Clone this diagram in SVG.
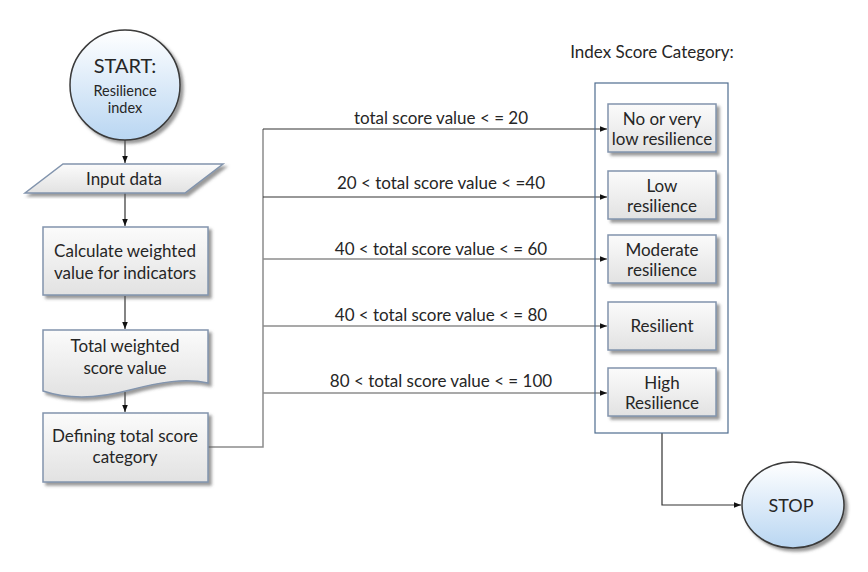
<svg xmlns="http://www.w3.org/2000/svg" width="868" height="572" viewBox="0 0 868 572">
<style>
text{font-family:Lato,"Liberation Sans",sans-serif;fill:#262626;text-anchor:middle}
.t{font-size:17px}
.lbl{font-size:17px}
.box{fill:url(#boxg);stroke:#8294ad;stroke-width:1.5;filter:url(#sh)}
.circ{fill:url(#circg);stroke:#3a3a3a;stroke-width:1.5;filter:url(#sh)}
.ln{fill:none;stroke:#333;stroke-width:1.2}
.lg{fill:none;stroke:#8c8c8c;stroke-width:1.5}
.cont{fill:none;stroke:#4f6d8f;stroke-width:1.2}
</style>
<defs>
<linearGradient id="boxg" x1="0" y1="0" x2="0" y2="1">
<stop offset="0" stop-color="#fbfbfb"/>
<stop offset="1" stop-color="#e2e2e2"/>
</linearGradient>
<linearGradient id="circg" x1="0" y1="0" x2="0" y2="1">
<stop offset="0" stop-color="#ffffff"/>
<stop offset="1" stop-color="#b9d6f2"/>
</linearGradient>
<filter id="sh" x="-20%" y="-20%" width="140%" height="140%">
<feDropShadow dx="3" dy="3" stdDeviation="1.5" flood-color="#555" flood-opacity="0.6"/>
</filter>
<marker id="ar" viewBox="0 0 10 10" refX="10" refY="5" markerWidth="7" markerHeight="7" orient="auto" markerUnits="userSpaceOnUse">
<path d="M0,1 L10,5 L0,9 Z" fill="#111"/>
</marker>
</defs>

<g id="connectors">
<line class="ln" x1="125" y1="140" x2="125" y2="163" marker-end="url(#ar)"/>
<line class="ln" x1="125" y1="193" x2="125" y2="226" marker-end="url(#ar)"/>
<line class="ln" x1="125" y1="296" x2="125" y2="329" marker-end="url(#ar)"/>
<line class="ln" x1="125" y1="392" x2="125" y2="412" marker-end="url(#ar)"/>
<polyline class="lg" points="208,447 263,447 263,129"/>
<line class="ln" x1="263" y1="129" x2="607" y2="129" marker-end="url(#ar)"/>
<line class="ln" x1="263" y1="197" x2="607" y2="197" marker-end="url(#ar)"/>
<line class="lg" x1="263" y1="259" x2="607" y2="259" marker-end="url(#ar)"/>
<line class="lg" x1="263" y1="326" x2="607" y2="326" marker-end="url(#ar)"/>
<line class="lg" x1="263" y1="393" x2="607" y2="393" marker-end="url(#ar)"/>
<polyline class="ln" points="662,433 662,505 741,505" marker-end="url(#ar)"/>
<text class="lbl" x="441" y="124">total score value &lt; = 20</text>
<text class="lbl" x="441" y="189">20 &lt; total score value &lt; =40</text>
<text class="lbl" x="441" y="255">40 &lt; total score value &lt; = 60</text>
<text class="lbl" x="441" y="321">40 &lt; total score value &lt; = 80</text>
<text class="lbl" x="441" y="387">80 &lt; total score value &lt; = 100</text>
</g>

<g id="start">
<circle class="circ" cx="125" cy="85" r="55"/>
<text x="125" y="73" style="font-size:20px">START:</text>
<text x="125" y="96" style="font-size:14.5px">Resilience</text>
<text x="125" y="113" style="font-size:14.5px">index</text>
</g>

<g id="input">
<polygon class="box" points="63,164 223,164 185,193 25,193"/>
<text class="t" x="124" y="185">Input data</text>
</g>

<g id="calculate">
<rect class="box" x="43" y="227" width="165" height="68"/>
<text class="t" x="125" y="257">Calculate weighted</text>
<text class="t" x="125" y="279">value for indicators</text>
</g>

<g id="total">
<path class="box" d="M43,330 H208 V383 C185,378 160,382 130,390 C100,398 70,400 43,391 Z"/>
<text class="t" x="125" y="352">Total weighted</text>
<text class="t" x="125" y="374">score value</text>
</g>

<g id="defining">
<rect class="box" x="43" y="413" width="165" height="69"/>
<text class="t" x="125" y="442">Defining total score</text>
<text class="t" x="125" y="463">category</text>
</g>

<g id="category-panel">
<text class="lbl" x="652" y="58">Index Score Category:</text>
<rect class="cont" x="595" y="83" width="133" height="350"/>
</g>

<g id="cat1">
<rect class="box" x="608" y="104" width="108" height="48"/>
<text class="t" x="662" y="125">No or very</text>
<text class="t" x="662" y="145">low resilience</text>
</g>
<g id="cat2">
<rect class="box" x="608" y="171" width="108" height="48"/>
<text class="t" x="662" y="192">Low</text>
<text class="t" x="662" y="212">resilience</text>
</g>
<g id="cat3">
<rect class="box" x="608" y="235" width="108" height="48"/>
<text class="t" x="662" y="256">Moderate</text>
<text class="t" x="662" y="276">resilience</text>
</g>
<g id="cat4">
<rect class="box" x="608" y="302" width="108" height="48"/>
<text class="t" x="662" y="332">Resilient</text>
</g>
<g id="cat5">
<rect class="box" x="608" y="368" width="108" height="48"/>
<text class="t" x="662" y="389">High</text>
<text class="t" x="662" y="409">Resilience</text>
</g>

<g id="stop">
<ellipse class="circ" cx="793" cy="505" rx="51" ry="43"/>
<text x="791" y="512" style="font-size:18px">STOP</text>
</g>
</svg>
